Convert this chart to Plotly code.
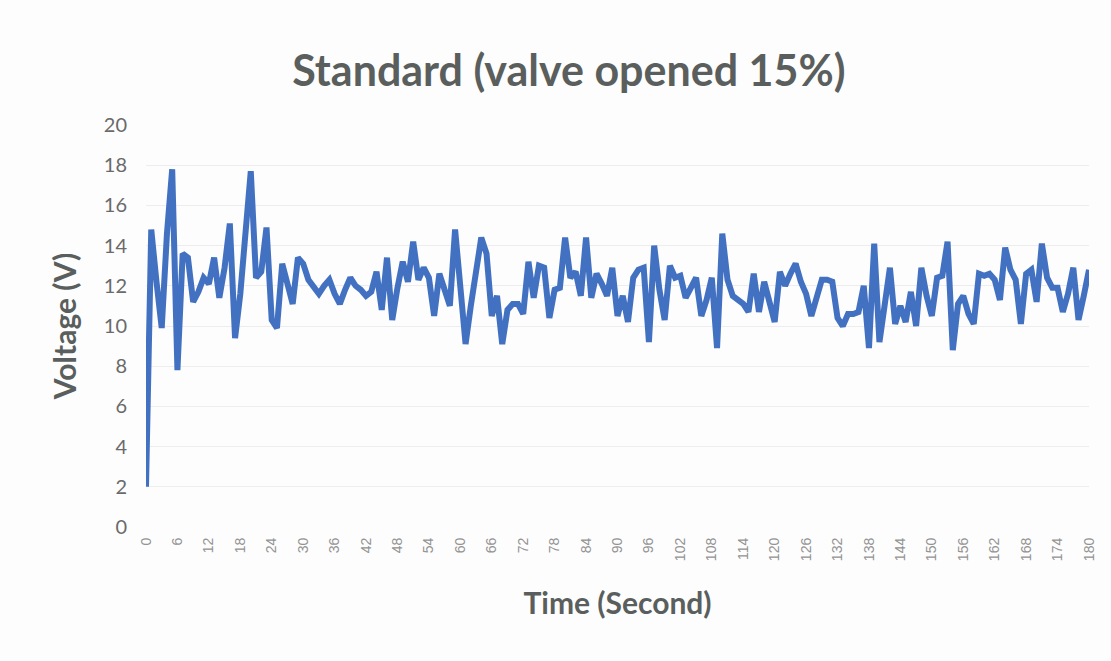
import plotly.graph_objects as go

# Time axis (seconds) and measured voltage
time_s = list(range(0, 181))
voltage = [
    2.0, 14.8, 12.2, 9.9, 14.6, 17.8, 7.8, 13.6, 13.4, 11.2,
    11.7, 12.4, 12.1, 13.4, 11.4, 12.9, 15.1, 9.4, 11.6, 14.6,
    17.7, 12.4, 12.7, 14.9, 10.3, 9.9, 13.1, 12.1, 11.1, 13.4,
    13.1, 12.3, 11.9, 11.6, 12.0, 12.3, 11.6, 11.1, 11.8, 12.4,
    12.0, 11.8, 11.5, 11.7, 12.7, 10.8, 13.4, 10.3, 11.9, 13.2,
    12.2, 14.2, 12.3, 12.9, 12.4, 10.5, 12.6, 11.8, 11.0, 14.8,
    11.8, 9.1, 11.0, 12.8, 14.4, 13.6, 10.5, 11.5, 9.1, 10.8,
    11.1, 11.1, 10.6, 13.2, 11.4, 13.0, 12.9, 10.4, 11.8, 11.9,
    14.4, 12.4, 12.7, 11.5, 14.4, 11.4, 12.6, 12.1, 11.5, 12.9,
    10.5, 11.5, 10.2, 12.4, 12.8, 12.9, 9.2, 14.0, 11.8, 10.3,
    13.0, 12.4, 12.5, 11.4, 11.9, 12.4, 10.5, 11.3, 12.4, 8.9,
    14.6, 12.3, 11.5, 11.3, 11.1, 10.7, 12.6, 10.7, 12.2, 11.2,
    10.2, 12.7, 12.0, 12.6, 13.1, 12.2, 11.6, 10.5, 11.4, 12.3,
    12.3, 12.2, 10.4, 10.0, 10.6, 10.6, 10.7, 12.0, 8.9, 14.1,
    9.2, 11.0, 12.9, 10.1, 11.0, 10.2, 11.7, 10.0, 12.9, 11.5,
    10.5, 12.4, 12.5, 14.2, 8.8, 11.1, 11.5, 10.6, 10.1, 12.6,
    12.5, 12.6, 12.3, 11.3, 13.9, 12.8, 12.3, 10.1, 12.6, 12.8,
    11.2, 14.1, 12.4, 11.9, 11.9, 10.7, 11.6, 12.9, 10.3, 11.5,
    12.8,
]

x_ticks = list(range(0, 181, 6))
y_ticks = list(range(0, 21, 2))

fig = go.Figure(
    go.Scatter(
        x=time_s,
        y=voltage,
        mode="lines",
        line=dict(color="#4371c1", width=6),
        hoverinfo="x+y",
    )
)

fig.update_layout(
    width=1111,
    height=661,
    paper_bgcolor="#fdfdfd",
    plot_bgcolor="#fdfdfd",
    showlegend=False,
    margin=dict(l=146, r=22, t=125, b=134),
    title=dict(
        text="<b>Standard (valve opened 15%)</b>",
        x=0.512,
        xanchor="center",
        y=0.892,
        yanchor="middle",
        font=dict(family="Lato", size=43, color="#5a5f5d"),
    ),
    xaxis=dict(
        range=[0, 180],
        tickmode="array",
        tickvals=x_ticks,
        ticktext=[str(v) for v in x_ticks],
        tickangle=-90,
        tickfont=dict(family="Liberation Sans", size=14, color="#939393"),
        showgrid=False,
        zeroline=False,
        showline=False,
        ticks="",
        ticklabelstandoff=7,
        title=dict(
            text="<b>Time (Second)</b>",
            font=dict(family="Lato", size=30, color="#5a5f5d"),
            standoff=32,
        ),
    ),
    yaxis=dict(
        range=[0, 20],
        tickmode="array",
        tickvals=y_ticks,
        tickfont=dict(family="Lato", size=20, color="#6a6a6a"),
        showgrid=True,
        gridcolor="#ededed",
        gridwidth=1,
        zeroline=False,
        showline=False,
        ticks="",
        ticklabelstandoff=18,
        title=dict(
            text="<b>Voltage (V)</b>",
            font=dict(family="Lato", size=30, color="#5a5f5d"),
            standoff=18,
        ),
    ),
)

fig.write_html("out.html")
